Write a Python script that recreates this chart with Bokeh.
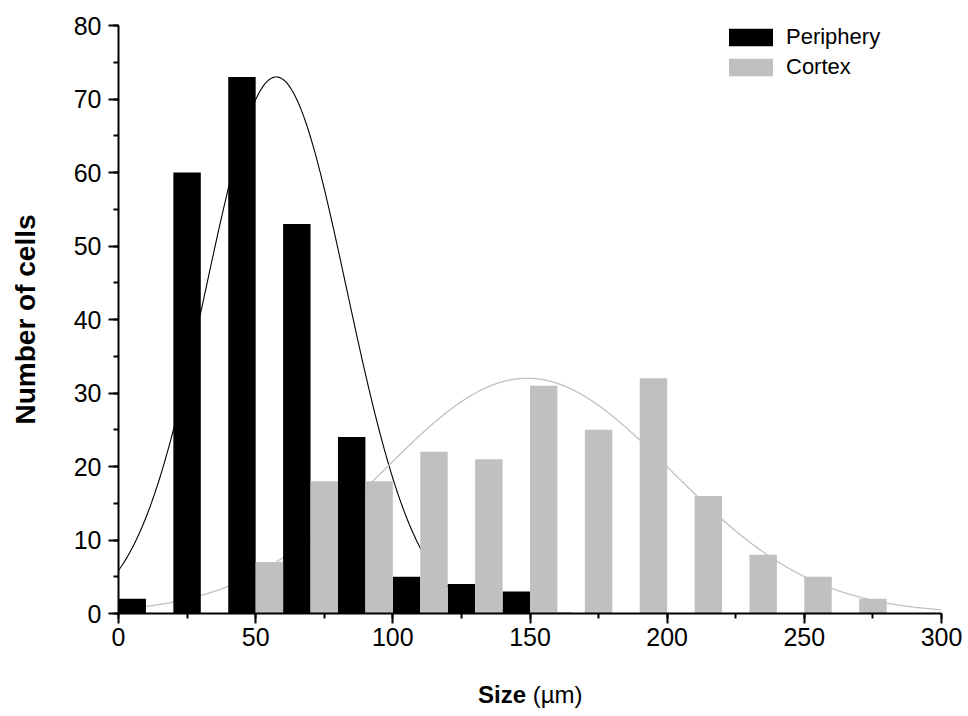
import numpy as np
from bokeh.plotting import figure
from bokeh.layouts import column
from bokeh.models import (Range1d, SingleIntervalTicker, Legend, LegendItem,
                          ColumnDataSource, Div)
from bokeh.embed import file_html
from bokeh.resources import INLINE

# ---- data ----
bin_width = 10
periphery_left = [0, 20, 40, 60, 80, 100, 120, 140]
periphery_count = [2, 60, 73, 53, 24, 5, 4, 3]
cortex_left = [50, 70, 90, 110, 130, 150, 170, 190, 210, 230, 250, 270]
cortex_count = [7, 18, 18, 22, 21, 31, 25, 32, 16, 8, 5, 2]

# Gaussian fit parameters (amplitude, centre, width)
periphery_fit = (73.0, 57.5, 25.6)
cortex_fit = (32.0, 149.0, 52.5)

series_names = ["Periphery", "Cortex"]
x_title_bold = "Size"
x_title_rest = "(µm)"
y_title = "Number of cells"

FONT = "Liberation Sans"
GRAY = "#c0c0c0"

p = figure(width=968, height=680, output_backend="svg", toolbar_location=None,
           x_range=Range1d(0, 300), y_range=Range1d(0, 80),
           min_border_left=118, min_border_right=27, min_border_top=25,
           min_border_bottom=67)
p.outline_line_color = None
p.grid.visible = False
p.background_fill_color = "white"
p.border_fill_color = "white"

# fit curves (drawn behind the bars)
xs = np.linspace(0, 300, 601)
def gauss(params):
    a, c, s = params
    return a * np.exp(-((xs - c) ** 2) / (2 * s * s))

p.line(xs, gauss(periphery_fit), line_color="black", line_width=1.1)
p.line(xs, gauss(cortex_fit), line_color=GRAY, line_width=1.3)

src_p = ColumnDataSource(dict(left=periphery_left,
                              right=[l + bin_width for l in periphery_left],
                              top=periphery_count))
src_c = ColumnDataSource(dict(left=cortex_left,
                              right=[l + bin_width for l in cortex_left],
                              top=cortex_count))
r_p = p.quad(left="left", right="right", bottom=0, top="top", source=src_p,
             fill_color="black", line_color=None)
r_c = p.quad(left="left", right="right", bottom=0, top="top", source=src_c,
             fill_color=GRAY, line_color=None)

# axes
for ax in (p.xaxis, p.yaxis):
    ax.axis_line_width = 2
    ax.axis_line_color = "black"
    ax.major_tick_line_width = 2
    ax.minor_tick_line_width = 2
    ax.major_tick_out = 10
    ax.major_tick_in = 0
    ax.minor_tick_out = 5
    ax.minor_tick_in = 0
    ax.major_label_text_font = FONT
    ax.major_label_text_font_size = "25px"
    ax.major_label_text_color = "black"
p.xaxis.ticker = SingleIntervalTicker(interval=50, num_minor_ticks=2)
p.yaxis.ticker = SingleIntervalTicker(interval=10, num_minor_ticks=2)
p.xaxis.major_label_standoff = 4
p.yaxis.major_label_standoff = 7

p.yaxis.axis_label = y_title
p.yaxis.axis_label_text_font = FONT
p.yaxis.axis_label_text_font_size = "28px"
p.yaxis.axis_label_text_font_style = "bold"
p.yaxis.axis_label_text_color = "black"
p.yaxis.axis_label_standoff = 30

legend = Legend(items=[LegendItem(label=series_names[0], renderers=[r_p]),
                       LegendItem(label=series_names[1], renderers=[r_c])],
                location=(605, 533))
legend.glyph_width = 55
legend.glyph_height = 22
legend.label_height = 22
legend.spacing = 4
legend.padding = 0
legend.margin = 0
legend.label_standoff = 8
legend.label_text_font = FONT
legend.label_text_font_size = "22px"
legend.label_text_color = "black"
legend.border_line_alpha = 0
legend.background_fill_alpha = 0
p.add_layout(legend)

xtitle = Div(
    text=(f'<div style="margin-left:478px; font-family:\'Liberation Sans\'; '
          f'font-size:24px; line-height:30px; color:black; white-space:nowrap">'
          f'<b>{x_title_bold}</b> {x_title_rest}</div>'),
    width=968, height=36, margin=(0, 0, 0, 0))

layout = column(p, xtitle, spacing=0)
open("out.html", "w").write(file_html(layout, INLINE))
